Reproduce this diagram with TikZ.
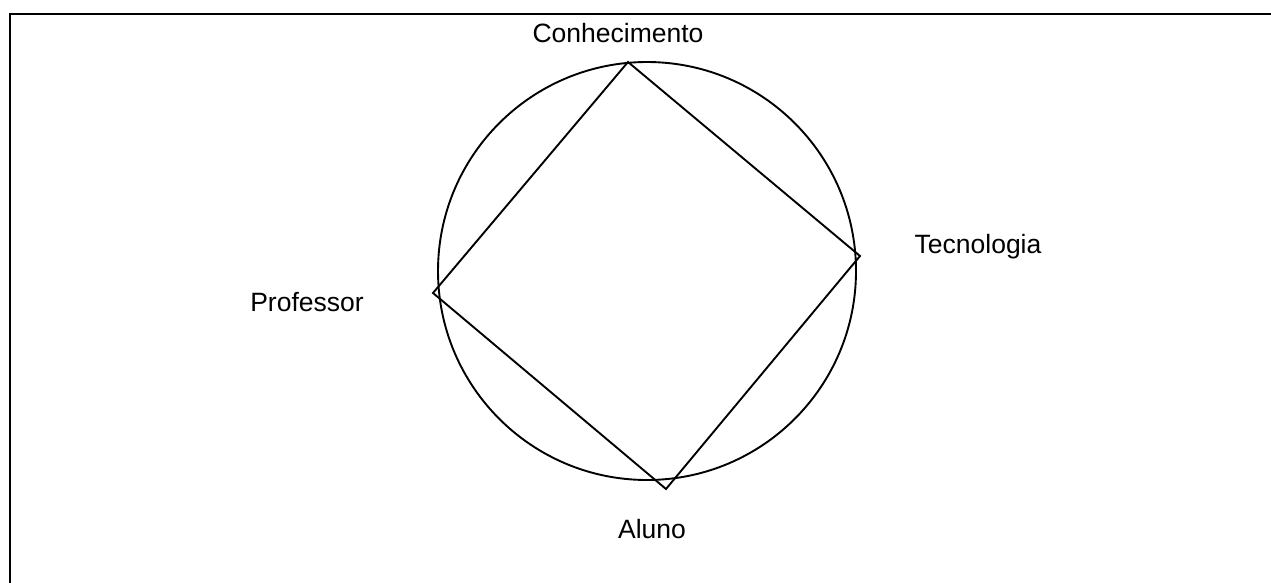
\documentclass[tikz,border=0pt]{standalone}
\usepackage{fontspec}
\setmainfont{Liberation Sans}
\begin{document}
\begin{tikzpicture}[x=1pt,y=-1pt,
  line/.style={line width=1.9pt, line join=miter},
  lbl/.style={font=\fontsize{26.5}{31}\selectfont, inner sep=0pt}]
\useasboundingbox (0,0) rectangle (1271,583);
% frame (only top and left edges visible)
\draw[line width=2.2pt] (10,583) -- (10,14) -- (1271,14);
% circle
\node[circle, draw, line width=1.9pt, minimum size=418pt, inner sep=0pt] (circ) at (647,271) {};
% square vertices
\coordinate (top) at (628,62);
\coordinate (right) at (860,256);
\coordinate (bottom) at (666,489);
\coordinate (left) at (433,293);
\draw[line] (top) -- (right) -- (bottom) -- (left) -- cycle;
% labels
\node[lbl] (con) at (618,33) {Conhecimento};
\node[lbl] (tec) at (978,247) {Tecnologia};
\node[lbl] (pro) at (307,302) {Professor};
\node[lbl] (alu) at (652,529) {Aluno};
\end{tikzpicture}
\end{document}
